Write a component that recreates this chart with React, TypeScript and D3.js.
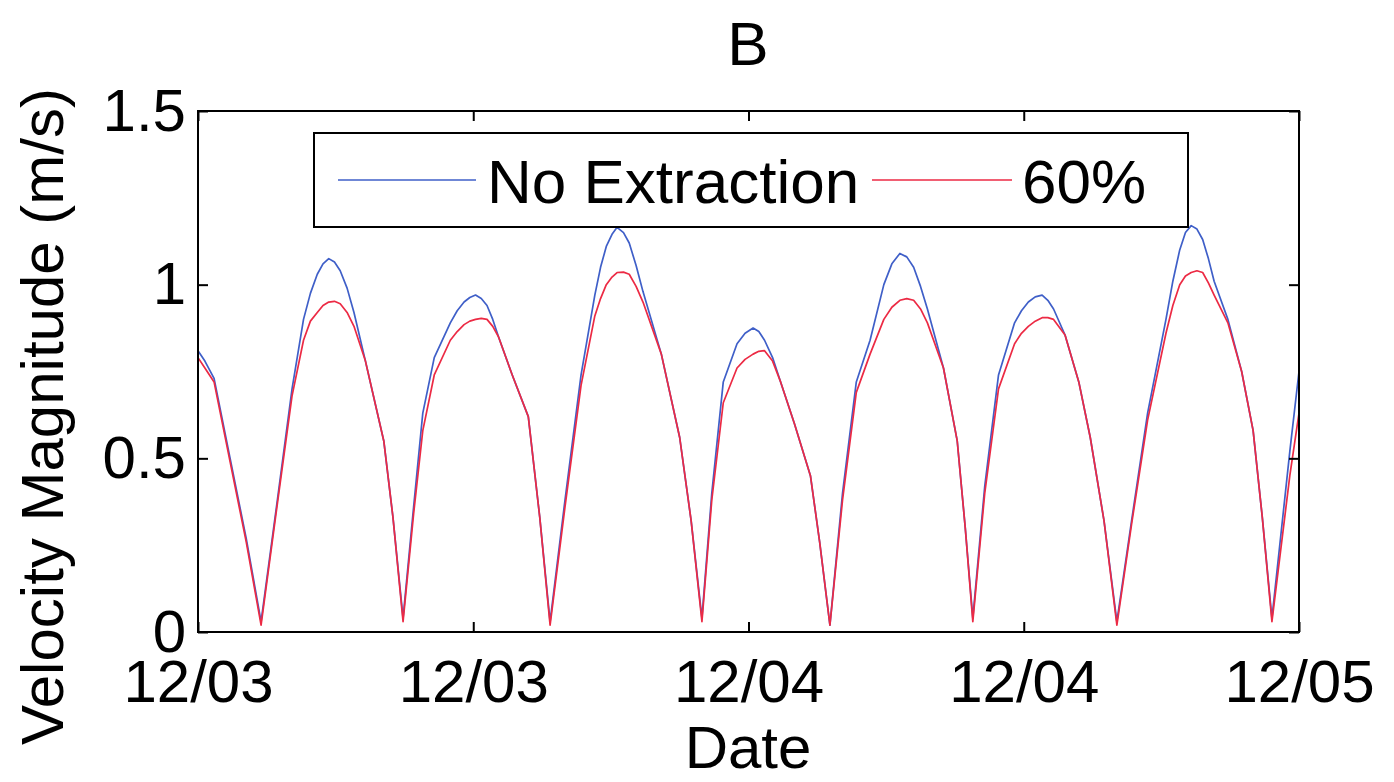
import React, { useEffect, useRef } from "react";
import * as d3 from "d3";

// hours since 12/03 00:00
const hours = [
  0, 0.3, 0.7, 1.4, 2.1, 2.75,
  3.4, 4.1, 4.6, 4.9, 5.2, 5.45, 5.7, 5.95, 6.2, 6.5, 6.8, 7.3, 8.1, 8.5, 8.94,
  9.4, 9.8, 10.3, 11.0, 11.3, 11.6, 11.85, 12.1, 12.35, 12.6, 12.85, 13.1, 13.7, 14.4, 14.9, 15.35,
  16.0, 16.7, 17.3, 17.55, 17.8, 18.05, 18.27, 18.55, 18.8, 19.1, 19.4, 20.2, 21.0, 21.5, 21.97,
  22.4, 22.9, 23.5, 23.85, 24.2, 24.45, 24.7, 25.05, 25.4, 26.0, 26.7, 27.1, 27.55,
  28.1, 28.7, 29.3, 29.9, 30.25, 30.6, 30.9, 31.2, 31.5, 31.8, 32.5, 33.1, 33.45, 33.78,
  34.3, 34.9, 35.6, 35.9, 36.2, 36.5, 36.8, 37.05, 37.3, 37.8, 38.4, 38.9, 39.5, 40.06,
  40.7, 41.4, 42.2, 42.5, 42.8, 43.05, 43.3, 43.55, 43.8, 44.05, 44.3, 44.9, 45.5, 46.0, 46.4, 46.82,
  47.6, 48,
];

const noExtraction = [
  0.81, 0.78, 0.73, 0.5, 0.27, 0.03,
  0.35, 0.7, 0.9, 0.975, 1.03, 1.06, 1.075, 1.065, 1.04, 0.99, 0.92, 0.78, 0.55, 0.33, 0.04,
  0.36, 0.63, 0.79, 0.89, 0.925, 0.95, 0.963, 0.97, 0.96, 0.94, 0.9, 0.85, 0.74, 0.62, 0.33, 0.03,
  0.38, 0.74, 0.97, 1.05, 1.11, 1.145, 1.165, 1.15, 1.12, 1.055, 0.98, 0.8, 0.56, 0.32, 0.04,
  0.4, 0.72, 0.83, 0.86, 0.875, 0.865, 0.84, 0.79, 0.72, 0.6, 0.45, 0.26, 0.02,
  0.4, 0.72, 0.84, 1.0, 1.06, 1.09, 1.08, 1.05, 0.995, 0.93, 0.76, 0.55, 0.3, 0.04,
  0.42, 0.74, 0.89, 0.925, 0.95, 0.965, 0.97, 0.955, 0.93, 0.855, 0.72, 0.56, 0.32, 0.03,
  0.32, 0.63, 0.9, 1.01, 1.1, 1.15, 1.17, 1.16, 1.13, 1.075, 1.01, 0.9, 0.75, 0.58, 0.33, 0.04,
  0.52, 0.75,
];

const extraction60 = [
  0.79, 0.76, 0.72, 0.49, 0.26, 0.02,
  0.34, 0.68, 0.84, 0.895, 0.92, 0.94, 0.95, 0.952, 0.945, 0.92, 0.88, 0.78, 0.55, 0.33, 0.03,
  0.34, 0.58, 0.74, 0.84, 0.865, 0.885, 0.895, 0.9, 0.903, 0.9, 0.88, 0.85, 0.74, 0.62, 0.33, 0.02,
  0.36, 0.71, 0.91, 0.96, 1.0, 1.022, 1.035, 1.036, 1.03, 0.995, 0.95, 0.8, 0.56, 0.32, 0.03,
  0.38, 0.66, 0.76, 0.785, 0.8, 0.808, 0.81, 0.78, 0.72, 0.6, 0.45, 0.26, 0.02,
  0.38, 0.69, 0.8, 0.9, 0.935, 0.955, 0.96, 0.955, 0.93, 0.89, 0.76, 0.55, 0.3, 0.03,
  0.4, 0.7, 0.83, 0.86, 0.88, 0.895, 0.905, 0.905, 0.9, 0.855, 0.72, 0.56, 0.32, 0.02,
  0.31, 0.61, 0.86, 0.94, 1.0, 1.025, 1.035, 1.04, 1.035, 1.005, 0.97, 0.89, 0.75, 0.58, 0.33, 0.03,
  0.45, 0.63,
];

const xTicks = [0, 12, 24, 36, 48];
const xTickLabels = ["12/03", "12/03", "12/04", "12/04", "12/05"];
const yTicks = [0, 0.5, 1, 1.5];
const yTickLabels = ["0", "0.5", "1", "1.5"];

const seriesNames = ["No Extraction", "60%"];
const seriesColors = ["#3f5fc8", "#ec2a44"];

const W = 1394;
const H = 782;
const FONT = "'Liberation Sans', Arial, Helvetica, sans-serif";

export default function App() {
  const ref = useRef<SVGSVGElement>(null);

  useEffect(() => {
    const svg = d3.select(ref.current);
    svg.selectAll("*").remove();

    const left = 198, right = 1299, top = 111, bottom = 632;
    const x = d3.scaleLinear().domain([0, 48]).range([left, right]);
    const y = d3.scaleLinear().domain([0, 1.5]).range([bottom, top]);

    svg.append("rect").attr("width", W).attr("height", H).attr("fill", "#fff");

    // lines
    const line = d3
      .line<number>()
      .x((d, i) => x(hours[i]))
      .y((d) => y(d));

    [noExtraction, extraction60].forEach((vals, k) => {
      svg
        .append("path")
        .datum(vals)
        .attr("d", line)
        .attr("fill", "none")
        .attr("stroke", seriesColors[k])
        .attr("stroke-width", 1.7)
        .attr("stroke-linejoin", "round");
    });

    // axes (ticks point inward, box on)
    const styleAxis = (g: any) => {
      g.select(".domain").remove();
      g.selectAll(".tick line").attr("stroke", "#000").attr("stroke-width", 2);
      g.selectAll("text")
        .attr("font-family", FONT)
        .attr("font-size", 60)
        .attr("fill", "#000");
    };

    svg
      .append("g")
      .attr("transform", `translate(0,${bottom})`)
      .call(
        d3
          .axisBottom(x)
          .tickValues(xTicks)
          .tickFormat((d, i) => xTickLabels[i])
          .tickSize(-10)
          .tickPadding(27)
      )
      .call(styleAxis);

    svg
      .append("g")
      .attr("transform", `translate(0,${top})`)
      .call(d3.axisTop(x).tickValues(xTicks).tickFormat(() => "").tickSize(-10))
      .call(styleAxis);

    svg
      .append("g")
      .attr("transform", `translate(${left},0)`)
      .call(
        d3
          .axisLeft(y)
          .tickValues(yTicks)
          .tickFormat((d, i) => yTickLabels[i])
          .tickSize(-10)
          .tickPadding(12)
      )
      .call(styleAxis);

    svg
      .append("g")
      .attr("transform", `translate(${right},0)`)
      .call(d3.axisRight(y).tickValues(yTicks).tickFormat(() => "").tickSize(-10))
      .call(styleAxis);

    // frame
    svg
      .append("rect")
      .attr("x", left)
      .attr("y", top)
      .attr("width", right - left)
      .attr("height", bottom - top)
      .attr("fill", "none")
      .attr("stroke", "#000")
      .attr("stroke-width", 2);

    // legend
    const lg = svg.append("g");
    lg.append("rect")
      .attr("x", 314)
      .attr("y", 133)
      .attr("width", 874)
      .attr("height", 94)
      .attr("fill", "#fff")
      .attr("stroke", "#000")
      .attr("stroke-width", 2);
    const items = [
      { x0: 338, x1: 476, tx: 487 },
      { x0: 872, x1: 1012, tx: 1022 },
    ];
    items.forEach((it, k) => {
      lg.append("line")
        .attr("x1", it.x0)
        .attr("x2", it.x1)
        .attr("y1", 180)
        .attr("y2", 180)
        .attr("stroke", seriesColors[k])
        .attr("stroke-width", 1.7);
      lg.append("text")
        .attr("x", it.tx)
        .attr("y", 203)
        .attr("font-family", FONT)
        .attr("font-size", 62)
        .text(seriesNames[k]);
    });

    // title and axis labels
    svg.append("text")
      .attr("x", 748)
      .attr("y", 65)
      .attr("text-anchor", "middle")
      .attr("font-family", FONT)
      .attr("font-size", 62)
      .text("B");

    svg.append("text")
      .attr("x", 748)
      .attr("y", 768)
      .attr("text-anchor", "middle")
      .attr("font-family", FONT)
      .attr("font-size", 60)
      .text("Date");

    svg.append("text")
      .attr("transform", `translate(63,${(top + bottom) / 2 + 45}) rotate(-90)`)
      .attr("text-anchor", "middle")
      .attr("font-family", FONT)
      .attr("font-size", 60)
      .text("Velocity Magnitude (m/s)");
  }, []);

  return (
    <svg
      ref={ref}
      width={W}
      height={H}
      style={{ position: "absolute", left: 0, top: 0, display: "block" }}
    />
  );
}
